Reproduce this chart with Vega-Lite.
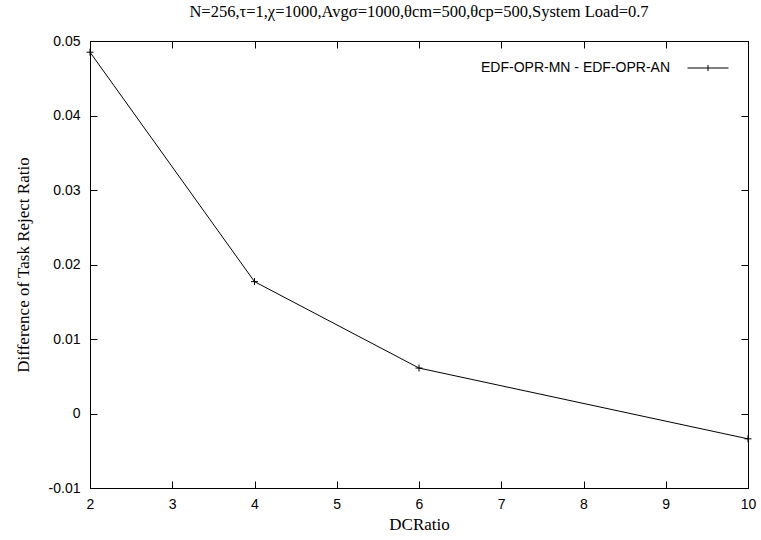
{
  "$schema": "https://vega.github.io/schema/vega-lite/v6.json",
  "autosize": "none",
  "width": 658,
  "height": 447,
  "padding": {"left": 90, "top": 41, "right": 13, "bottom": 52},
  "background": "white",
  "title": {
    "text": "N=256,τ=1,χ=1000,Avgσ=1000,θcm=500,θcp=500,System Load=0.7",
    "font": "Liberation Serif",
    "fontSize": 16.5,
    "fontWeight": "normal",
    "color": "black",
    "offset": 14
  },
  "data": {
    "values": [
      {"DCRatio": 2, "diff": 0.0485, "series": "EDF-OPR-MN - EDF-OPR-AN"},
      {"DCRatio": 4, "diff": 0.0177, "series": "EDF-OPR-MN - EDF-OPR-AN"},
      {"DCRatio": 6, "diff": 0.0061, "series": "EDF-OPR-MN - EDF-OPR-AN"},
      {"DCRatio": 10, "diff": -0.0034, "series": "EDF-OPR-MN - EDF-OPR-AN"}
    ]
  },
  "config": {
    "view": {"stroke": "black", "strokeWidth": 1},
    "axis": {
      "grid": false,
      "domainColor": "black",
      "domainWidth": 1,
      "tickColor": "black",
      "tickSize": -7,
      "labelFont": "Liberation Sans",
      "labelFontSize": 14,
      "labelColor": "black",
      "titleFont": "Liberation Serif",
      "titleFontSize": 17,
      "titleFontWeight": "normal",
      "titleColor": "black"
    }
  },
  "resolve": {"axis": {"x": "independent", "y": "independent"}},
  "layer": [
    {
      "mark": {"type": "line", "strokeWidth": 1},
      "encoding": {
        "x": {
          "field": "DCRatio",
          "type": "quantitative",
          "scale": {"domain": [2, 10], "nice": false, "zero": false},
          "axis": {"values": [2, 3, 4, 5, 6, 7, 8, 9, 10], "title": "DCRatio", "labelPadding": 16, "titlePadding": 5, "labelFlush": false}
        },
        "y": {
          "field": "diff",
          "type": "quantitative",
          "scale": {"domain": [-0.01, 0.05], "nice": false, "zero": false},
          "axis": {
            "values": [-0.01, 0, 0.01, 0.02, 0.03, 0.04, 0.05],
            "labelExpr": "replace(format(datum.value, '~g'), '−', '-')",
            "title": "Difference of Task Reject Ratio",
            "labelPadding": 17,
            "titlePadding": 16
          }
        },
        "color": {
          "field": "series",
          "type": "nominal",
          "scale": {"range": ["black"]},
          "legend": {
            "title": null,
            "orient": "none",
            "legendX": 597,
            "legendY": 6,
            "symbolType": "M-1,0H1M0,-0.15V0.15",
            "symbolSize": 1681,
            "symbolStrokeWidth": 1,
            "symbolStrokeColor": "black",
            "symbolFillColor": "transparent",
            "labelAlign": "right",
            "labelOffset": -59,
            "labelFont": "Liberation Sans",
            "labelFontSize": 14,
            "labelColor": "black",
            "labelLimit": 400
          }
        }
      }
    },
    {
      "mark": {"type": "point", "shape": "M-1,0H1M0,-1V1", "size": 49, "filled": false, "strokeWidth": 1, "color": "black", "opacity": 1},
      "encoding": {
        "x": {
          "field": "DCRatio",
          "type": "quantitative",
          "axis": {"orient": "top", "values": [2, 3, 4, 5, 6, 7, 8, 9, 10], "labels": false, "title": null}
        },
        "y": {
          "field": "diff",
          "type": "quantitative",
          "axis": {"orient": "right", "values": [-0.01, 0, 0.01, 0.02, 0.03, 0.04, 0.05], "labels": false, "title": null}
        }
      }
    }
  ]
}
